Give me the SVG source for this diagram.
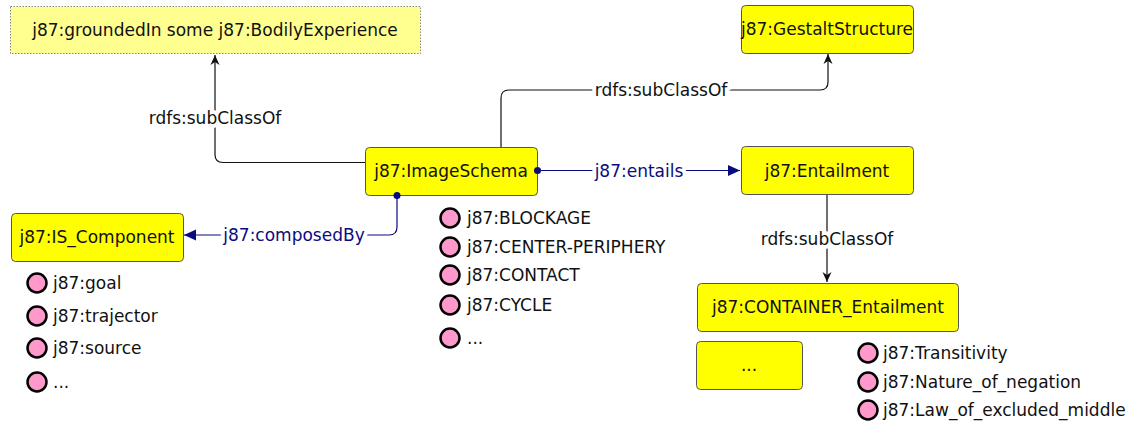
<svg xmlns="http://www.w3.org/2000/svg" width="1140" height="425" viewBox="0 0 1140 425">
  <style>
    text { font-family: "DejaVu Sans", "Liberation Sans", sans-serif; font-size: 17px; fill: #111; }
    .cls { fill: #ffff00; stroke: #555; stroke-width: 1; }
    .restr { fill: #ffff8f; stroke: #888; stroke-width: 1; stroke-dasharray: 1.5 1.5; }
    .mid { text-anchor: middle; }
    .edge { fill: none; stroke: #111; stroke-width: 1.2; }
    .prop { fill: none; stroke: #0b0b80; stroke-width: 1.2; }
    .lbl { text-anchor: middle; paint-order: stroke; stroke: #fff; stroke-width: 8px; stroke-linejoin: round; }
    .plbl { fill: #0b0b80; }
    .dot { fill: #0b0b80; }
    .ind { fill: #ff99cc; stroke: #000; stroke-width: 2.5; }
  </style>
  <defs>
    <marker id="sub" viewBox="0 0 10 10" refX="10" refY="5" markerWidth="10" markerHeight="10" markerUnits="userSpaceOnUse" orient="auto">
      <path d="M0,0.5 L10,5 L0,9.5 L3,5 Z" fill="#111"/>
    </marker>
    <marker id="obj" viewBox="0 0 10 10" refX="10" refY="5" markerWidth="12" markerHeight="12" markerUnits="userSpaceOnUse" orient="auto">
      <path d="M0,0.5 L10,5 L0,9.5 Z" fill="#0b0b80"/>
    </marker>
  </defs>
  <rect width="1140" height="425" fill="#fff"/>

  <!-- class nodes -->
  <g id="grounded-restriction">
    <rect class="restr" x="10.5" y="6.5" width="410" height="47"/>
    <text class="mid" x="215" y="36">j87:groundedIn some j87:BodilyExperience</text>
  </g>
  <g id="GestaltStructure">
    <rect class="cls" x="741.5" y="5.5" width="172" height="48" rx="4"/>
    <text class="mid" x="827" y="35">j87:GestaltStructure</text>
  </g>
  <g id="ImageSchema">
    <rect class="cls" x="365.5" y="147.5" width="172" height="48" rx="4"/>
    <text class="mid" x="451" y="177">j87:ImageSchema</text>
  </g>
  <g id="Entailment">
    <rect class="cls" x="741.5" y="146.5" width="172" height="48" rx="4"/>
    <text class="mid" x="827" y="177">j87:Entailment</text>
  </g>
  <g id="IS_Component">
    <rect class="cls" x="11.5" y="213.5" width="172" height="48" rx="4"/>
    <text class="mid" x="97" y="243">j87:IS_Component</text>
  </g>
  <g id="CONTAINER_Entailment">
    <rect class="cls" x="697.5" y="283.5" width="261" height="48" rx="4"/>
    <text class="mid" x="828" y="313">j87:CONTAINER_Entailment</text>
  </g>
  <g id="more-entailments">
    <rect class="cls" x="696.5" y="341.5" width="106" height="48" rx="4"/>
    <text class="mid" x="749" y="371">...</text>
  </g>

  <!-- individuals -->
  <g id="IS_Component-individuals">
    <circle class="ind" cx="37" cy="283" r="9.5"/>
    <text x="53" y="289">j87:goal</text>
    <circle class="ind" cx="37" cy="316" r="9.5"/>
    <text x="53" y="322">j87:trajector</text>
    <circle class="ind" cx="37" cy="348" r="9.5"/>
    <text x="53" y="354">j87:source</text>
    <circle class="ind" cx="37" cy="382" r="9.5"/>
    <text x="53" y="388">...</text>
  </g>
  <g id="ImageSchema-individuals">
    <circle class="ind" cx="450" cy="218" r="9.5"/>
    <text x="467" y="224">j87:BLOCKAGE</text>
    <circle class="ind" cx="450" cy="247" r="9.5"/>
    <text x="467" y="253">j87:CENTER-PERIPHERY</text>
    <circle class="ind" cx="450" cy="275" r="9.5"/>
    <text x="467" y="281">j87:CONTACT</text>
    <circle class="ind" cx="450" cy="305" r="9.5"/>
    <text x="467" y="311">j87:CYCLE</text>
    <circle class="ind" cx="450" cy="338" r="9.5"/>
    <text x="467" y="344">...</text>
  </g>
  <g id="CONTAINER_Entailment-individuals">
    <circle class="ind" cx="868" cy="353" r="9.5"/>
    <text x="883" y="359">j87:Transitivity</text>
    <circle class="ind" cx="868" cy="382" r="9.5"/>
    <text x="883" y="388">j87:Nature_of_negation</text>
    <circle class="ind" cx="868" cy="410" r="9.5"/>
    <text x="883" y="416">j87:Law_of_excluded_middle</text>
  </g>

  <!-- connectors, drawn over the node borders so the end dots stay visible -->
  <g id="connectors">
    <path class="edge" d="M365,162.5 H223 Q215,162.5 215,154.5 V55" marker-end="url(#sub)"/>
    <text class="lbl" x="215" y="124">rdfs:subClassOf</text>

    <path class="edge" d="M501,147 V98 Q501,90 509,90 H820 Q828,90 828,82 V54" marker-end="url(#sub)"/>
    <text class="lbl" x="661" y="96">rdfs:subClassOf</text>

    <path class="edge" d="M827,195 V282" marker-end="url(#sub)"/>
    <text class="lbl" x="827" y="245">rdfs:subClassOf</text>

    <path class="prop" d="M537,170.5 H740" marker-end="url(#obj)"/>
    <text class="lbl plbl" x="639" y="176.5">j87:entails</text>
    <circle class="dot" cx="537.5" cy="170.5" r="3.5"/>

    <path class="prop" d="M397,195.5 V227 Q397,235 389,235 H184" marker-end="url(#obj)"/>
    <text class="lbl plbl" x="294" y="241">j87:composedBy</text>
    <circle class="dot" cx="397" cy="195.5" r="3.5"/>
  </g>
</svg>
